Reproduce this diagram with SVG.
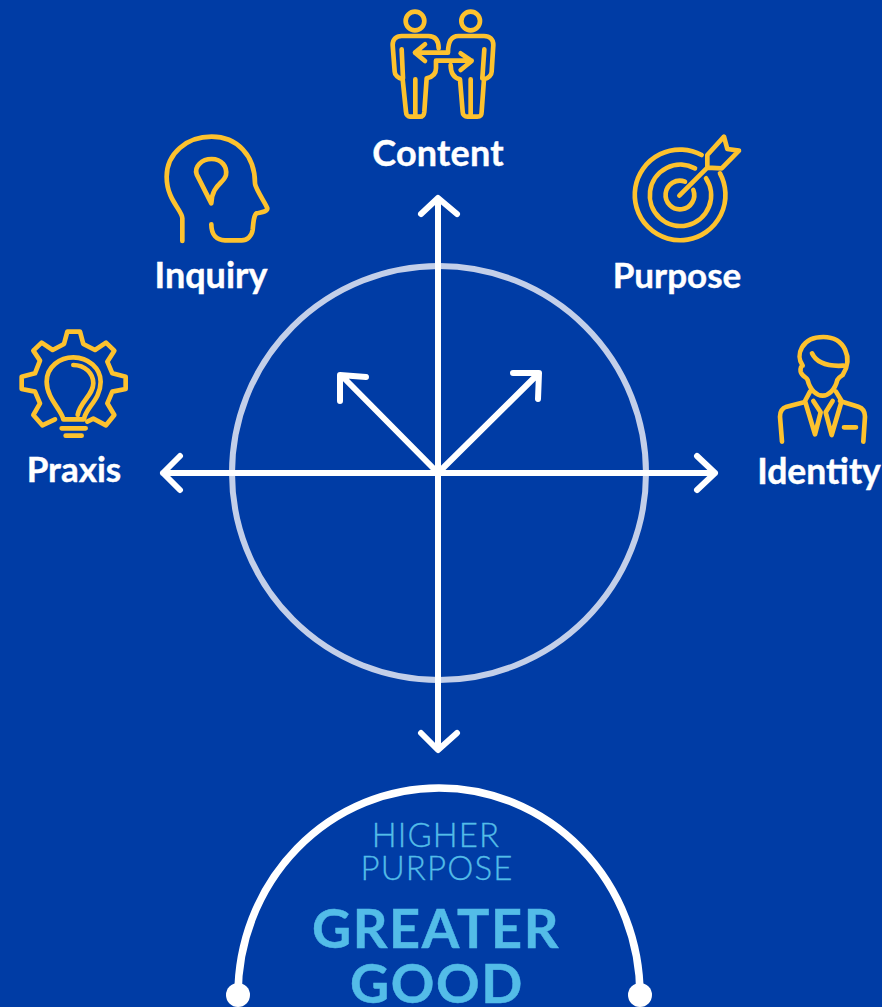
<svg xmlns="http://www.w3.org/2000/svg" width="882" height="1007" viewBox="0 0 882 1007">
<style>
.ic{fill:none;stroke:#fdc22e;stroke-width:14;stroke-linecap:round;stroke-linejoin:round}
.lb{font-family:Lato,"Liberation Sans",sans-serif;font-weight:700;font-size:35px;fill:#fff;text-anchor:middle;stroke:#fff;stroke-width:.4}
.ar{fill:none;stroke:#fff;stroke-width:6;stroke-linecap:round;stroke-linejoin:round}
.hp{font-family:Lato,"Liberation Sans",sans-serif;font-weight:300;font-size:33px;letter-spacing:1.1px;fill:#53bce8;stroke:#53bce8;stroke-width:.3;text-anchor:middle}
.gg{font-family:Lato,"Liberation Sans",sans-serif;font-weight:700;font-size:54px;letter-spacing:1.6px;fill:#53bce8;text-anchor:middle;stroke:#53bce8;stroke-width:.5}
</style>
<rect width="882" height="1007" fill="#003ca5"/>
<g id="ring"><circle cx="439" cy="473" r="207" fill="none" stroke="#c3cfe9" stroke-width="6"/></g>
<g id="connectors">
<path class="ar" d="M438 200V748M421 214L438 198L457 214M421 733L438 750L457 733"/>
<path class="ar" d="M163 473H715M180 456L163 473L180 490M697 456L715 473L697 490"/>
<path class="ar" d="M438 473L342 376M340 401L340 375L366 377"/>
<path class="ar" d="M438 473L538 374M513 373L539 373L538 399"/>
</g>
<g id="content">
<g transform="translate(360 0) scale(.3333)">
<circle class="ic" cx="165" cy="63" r="28"/><circle class="ic" cx="332" cy="63" r="28"/>
<path class="ic" d="M236 145C236 120 225 108 205 108L125 108C108 108 98 118 98 135L104 215C104 225 115 235 128 238L138 335C138 345 145 350 150 350L180 350C190 350 192 345 193 335L200 235C215 232 228 225 228 205L228 182L335 182M302 160L335 183L302 210M125 148L129 235M166 238L166 350"/>
<path class="ic" d="M272 195C272 210 275 232 300 238L308 335C308 345 315 350 322 350L352 350C362 350 365 345 365 335L372 238C385 235 395 225 395 215L400 135C400 118 390 108 372 108L295 108C275 108 264 125 264 158L165 158M195 133L165 158L195 183M373 148L367 235M332 238L332 350"/>
</g>
<text class="lb" x="438" y="166" style="font-size:36px;letter-spacing:.2px">Content</text>
</g>
<g id="inquiry">
<g transform="translate(150 125) scale(.3333)">
<path class="ic" d="M97 348L97 280C97 255 50 225 50 155C50 85 110 35 185 35C260 35 315 90 315 175C315 190 350 240 352 250C352 262 330 262 320 265C312 270 310 290 308 315C305 335 290 346 275 346L225 346C200 346 184 330 184 298"/>
<path class="ic" d="M184 235L140 148C132 125 155 102 185 102C215 102 232 125 228 150C222 175 185 180 184 235Z"/>
</g>
<text class="lb" x="211" y="288" style="font-size:36px">Inquiry</text>
</g>
<g id="purpose">
<g transform="translate(620 125) scale(.3333)">
<path class="ic" d="M245 90A136 136 0 1 0 300 145M225 130A92 92 0 1 0 258 160M195 170A43 43 0 1 0 220 195M178 212L262 128L262 90L312 35L322 72L357 77L305 130L262 128"/>
</g>
<text class="lb" x="677" y="288">Purpose</text>
</g>
<g id="praxis">
<g transform="translate(10 320) scale(.3333)">
<path class="ic" d="M135 298L97 316L70 285L90 250L75 215L35 207L35 170L75 160L90 122L70 92L95 68L128 90L162 72L172 35L210 35L220 72L255 90L288 68L313 92L292 125L307 160L347 170L347 207L307 215L292 250L313 285L288 316L250 296L232 305"/>
<path class="ic" d="M160 298C155 270 110 235 110 185C110 140 150 112 190 112C235 112 272 145 272 185C272 240 225 265 222 298ZM190 135C225 135 250 160 250 190C250 225 210 245 203 285M155 325L227 325M167 347L215 347"/>
</g>
<text class="lb" x="74" y="482">Praxis</text>
</g>
<g id="identity">
<g transform="translate(760 325) scale(.3333)">
<path class="ic" d="M128 122C105 90 125 36 190 36C255 36 280 100 248 150C240 155 235 158 232 165C225 195 205 212 188 212C170 212 150 195 143 165C140 155 125 155 122 140C120 128 125 122 128 122ZM156 85C170 115 200 125 250 122M150 200L135 228L165 328L182 262L160 228M132 232L80 245C65 250 60 260 60 275L66 350M240 228L295 245C310 250 315 262 315 275L310 350M228 200L245 228L215 330L197 262L218 228M252 307L288 307"/>
</g>
<text class="lb" x="819" y="484" style="font-size:35.5px">Identity</text>
</g>
<g id="greater-good">
<path d="M238 995A201 207 0 0 1 640 995" fill="none" stroke="#fff" stroke-width="7.5"/>
<circle cx="238" cy="995" r="12" fill="#fff"/><circle cx="640" cy="995" r="12" fill="#fff"/>
<text class="hp" x="436" y="847">HIGHER</text>
<text class="hp" x="437" y="880">PURPOSE</text>
<text class="gg" x="436" y="948">GREATER</text>
<text class="gg" x="437" y="1003">GOOD</text>
</g>
</svg>
